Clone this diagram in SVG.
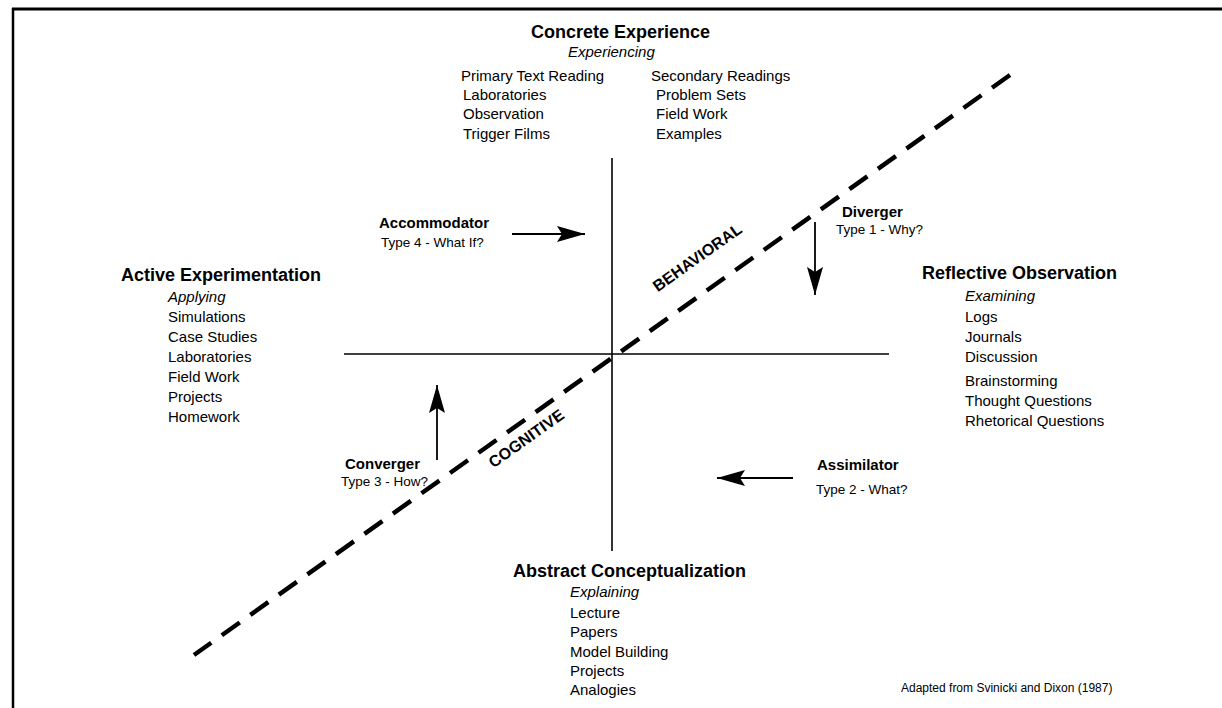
<svg xmlns="http://www.w3.org/2000/svg" width="1222" height="708" viewBox="0 0 1222 708">
<style>
text{font-family:"Liberation Sans",Arial,Helvetica,sans-serif;fill:#000}
.h{font-size:18px;font-weight:bold}
.it{font-size:15px;font-style:italic}
.li{font-size:15px}
.nm{font-size:15px;font-weight:bold}
.ty{font-size:13.5px}
.dim{font-size:16px;font-weight:bold}
.note{font-size:12px}
.ax{stroke:#000;stroke-width:1.6;fill:none}
.ar{stroke:#000;stroke-width:1.8;fill:none;marker-end:url(#head)}
</style>
<defs>
<marker id="head" markerUnits="userSpaceOnUse" viewBox="0 0 28 16" refX="28" refY="8" markerWidth="28" markerHeight="16" orient="auto">
<path d="M0,0 L28,8 L0,16 L5,8 Z" fill="#000"/>
</marker>
</defs>
<rect width="1222" height="708" fill="#fff"/>
<g id="frame">
<line x1="12" y1="9" x2="1222" y2="9" stroke="#000" stroke-width="3"/>
<line x1="13" y1="8" x2="13" y2="708" stroke="#000" stroke-width="2.5"/>
</g>
<g id="connectors">
<line class="ax" x1="612" y1="158" x2="612" y2="551"/>
<line class="ax" x1="344" y1="354" x2="889" y2="354"/>
<line x1="1010" y1="75" x2="194" y2="655" stroke="#000" stroke-width="4.5" stroke-dasharray="22 13"/>
<line class="ar" x1="512" y1="234" x2="585" y2="234"/>
<line class="ar" x1="815" y1="222" x2="815" y2="295"/>
<line class="ar" x1="437" y1="460" x2="437" y2="385"/>
<line class="ar" x1="793" y1="478" x2="717" y2="478"/>
</g>
<g id="concrete-experience">
<text class="h" x="531" y="38">Concrete Experience</text>
<text class="it" x="568" y="57">Experiencing</text>
<text class="li" x="461" y="81">Primary Text Reading</text>
<text class="li" x="463" y="100">Laboratories</text>
<text class="li" x="463" y="119">Observation</text>
<text class="li" x="463" y="139">Trigger Films</text>
<text class="li" x="651" y="81">Secondary Readings</text>
<text class="li" x="656" y="100">Problem Sets</text>
<text class="li" x="656" y="119">Field Work</text>
<text class="li" x="656" y="139">Examples</text>
</g>
<g id="accommodator">
<text class="nm" x="379" y="228">Accommodator</text>
<text class="ty" x="381" y="247">Type 4 - What If?</text>
</g>
<g id="diverger">
<text class="nm" x="842" y="217">Diverger</text>
<text class="ty" x="836" y="234">Type 1 - Why?</text>
</g>
<g id="active-experimentation">
<text class="h" x="121" y="281">Active Experimentation</text>
<text class="it" x="168" y="302">Applying</text>
<text class="li" x="168" y="322">Simulations</text>
<text class="li" x="168" y="342">Case Studies</text>
<text class="li" x="168" y="362">Laboratories</text>
<text class="li" x="168" y="382">Field Work</text>
<text class="li" x="168" y="402">Projects</text>
<text class="li" x="168" y="422">Homework</text>
</g>
<g id="reflective-observation">
<text class="h" x="922" y="279">Reflective Observation</text>
<text class="it" x="965" y="301">Examining</text>
<text class="li" x="965" y="322">Logs</text>
<text class="li" x="965" y="342">Journals</text>
<text class="li" x="965" y="362">Discussion</text>
<text class="li" x="965" y="386">Brainstorming</text>
<text class="li" x="965" y="406">Thought Questions</text>
<text class="li" x="965" y="426">Rhetorical Questions</text>
</g>
<g id="behavioral">
<text class="dim" text-anchor="middle" transform="translate(697,257) rotate(-35.4)" x="0" y="6">BEHAVIORAL</text>
</g>
<g id="cognitive">
<text class="dim" text-anchor="middle" transform="translate(526,438) rotate(-35.4)" x="0" y="6">COGNITIVE</text>
</g>
<g id="converger">
<text class="nm" x="345" y="469">Converger</text>
<text class="ty" x="341" y="486">Type 3 - How?</text>
</g>
<g id="assimilator">
<text class="nm" x="817" y="470">Assimilator</text>
<text class="ty" x="816" y="494">Type 2 - What?</text>
</g>
<g id="abstract-conceptualization">
<text class="h" x="513" y="577">Abstract Conceptualization</text>
<text class="it" x="570" y="597">Explaining</text>
<text class="li" x="570" y="618">Lecture</text>
<text class="li" x="570" y="637">Papers</text>
<text class="li" x="570" y="657">Model Building</text>
<text class="li" x="570" y="676">Projects</text>
<text class="li" x="570" y="695">Analogies</text>
</g>
<g id="source-note">
<text class="note" x="901" y="692">Adapted from Svinicki and Dixon (1987)</text>
</g>
</svg>
